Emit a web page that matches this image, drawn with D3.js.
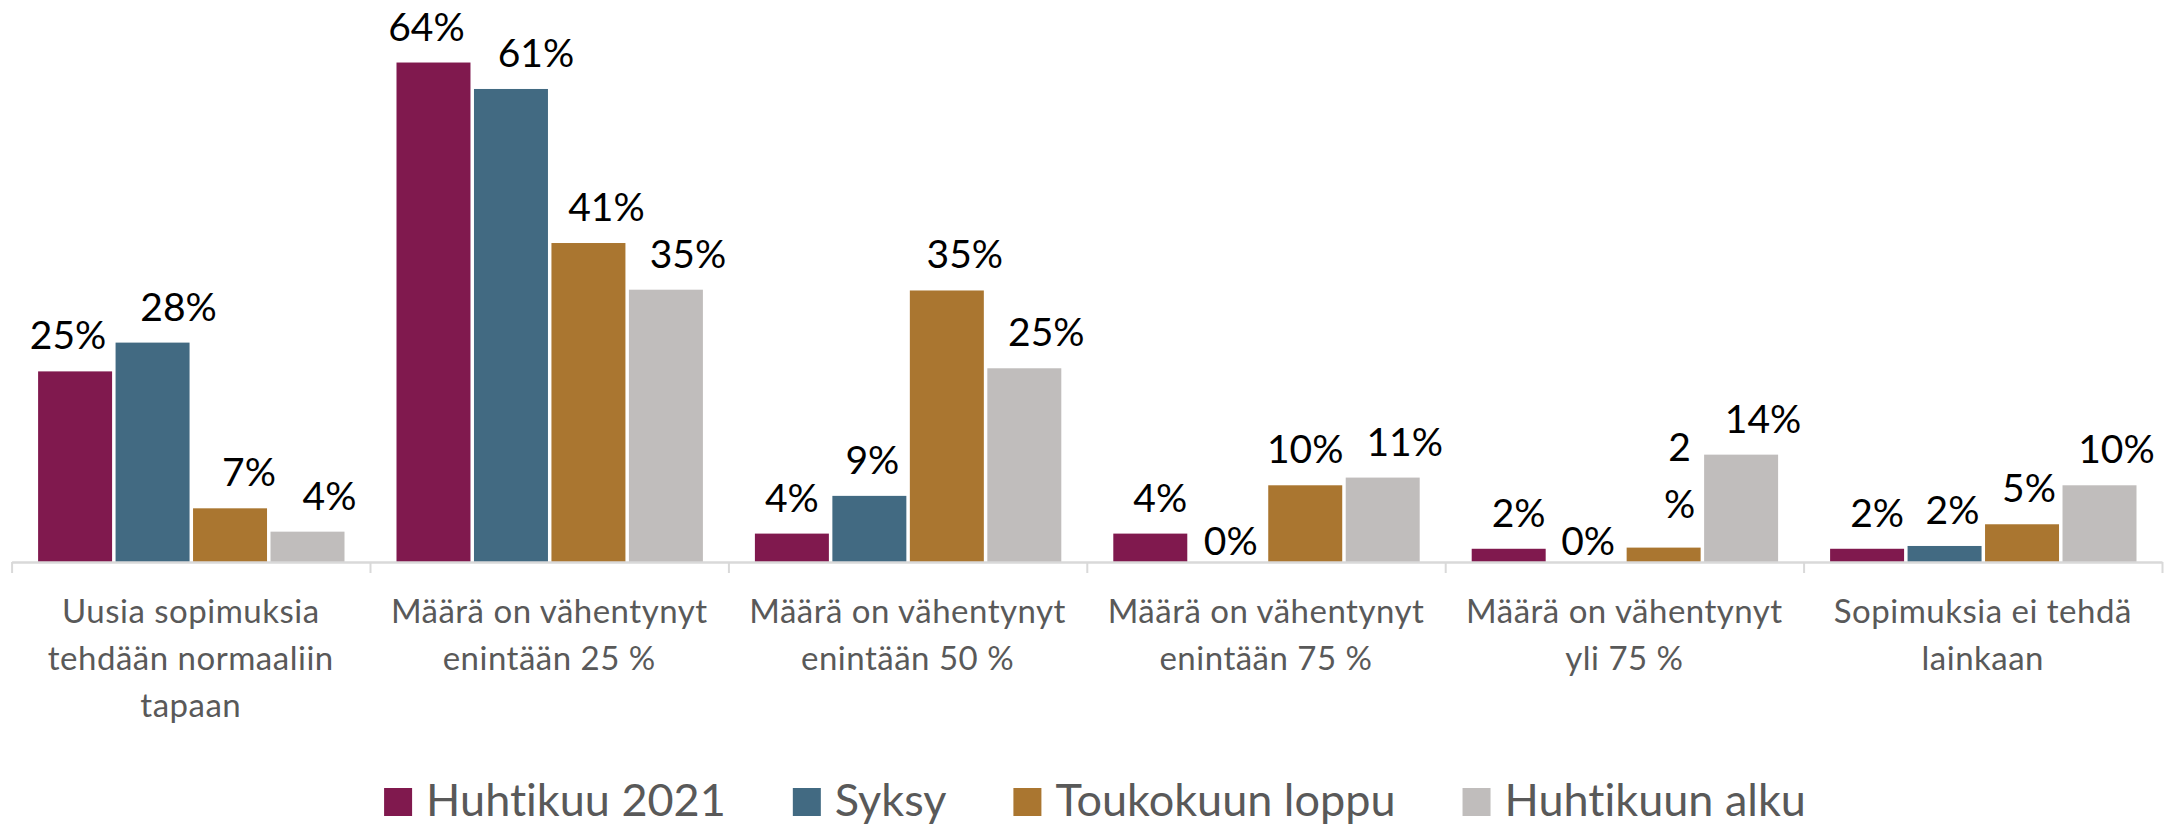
<!DOCTYPE html>
<html>
<head>
<meta charset="utf-8">
<script src="https://cdn.jsdelivr.net/npm/d3@7/dist/d3.min.js"></script>
<style>
  body { margin: 0; background: #fff; }
  svg {
    display: block;
    font-family: Lato, "Noto Sans", sans-serif;
    font-variant-ligatures: none;
    font-feature-settings: "liga" 0, "clig" 0;
  }
</style>
</head>
<body>
<div id="chart-container"></div>
<script>
// Categories (each one split in the lines shown under the axis)
const categories = [
  ["Uusia sopimuksia", "tehdään normaaliin", "tapaan"],
  ["Määrä on vähentynyt", "enintään 25 %"],
  ["Määrä on vähentynyt", "enintään 50 %"],
  ["Määrä on vähentynyt", "enintään 75 %"],
  ["Määrä on vähentynyt", "yli 75 %"],
  ["Sopimuksia ei tehdä", "lainkaan"]
];

const seriesNames = ["Huhtikuu 2021", "Syksy", "Toukokuun loppu", "Huhtikuun alku"];

// Values in percent
const huhtikuu2021 = [24.5, 64.2, 3.65, 3.65, 1.7, 1.7];
const syksy = [28.2, 60.8, 8.5, 0, 0, 2.06];
const toukokuunLoppu = [6.9, 41.0, 34.9, 9.86, 1.85, 4.85];
const huhtikuunAlku = [3.9, 35.0, 24.9, 10.85, 13.8, 9.86];

const seriesValues = [huhtikuu2021, syksy, toukokuunLoppu, huhtikuunAlku];
const colors = ["#80194e", "#426a82", "#aa7630", "#c0bdbc"];

// Labels that were moved by hand in the original (horizontal nudge, px)
const labelNudge = [
  [-7, -7, 0, 10, 10, 10],
  [26, 25, 3, 3, 2, 8],
  [19, 18, 18, 0, 16, 7],
  [22, 22, 22, 22, 22, 17]
];
// Labels that wrapped onto two lines in the original: [series, category]
const wrappedLabels = [[2, 4]];

const width = 2177, height = 827;
const axisY = 562;

const svg = d3.select("#chart-container")
  .append("svg")
  .attr("width", width)
  .attr("height", height);

// Scales
const x0 = d3.scaleBand()
  .domain(d3.range(categories.length))
  .range([11.6, 2162]);

const x1 = d3.scaleBand()
  .domain(d3.range(seriesNames.length))
  .range([26.5, x0.bandwidth() - 25.5])
  .paddingInner(0.045);

const y = d3.scaleLinear()
  .domain([0, 70])
  .range([axisY, axisY - 70 * 7.78]);

// Flat list of bars
const bars = [];
seriesValues.forEach((vals, s) => {
  vals.forEach((v, c) => bars.push({ s, c, v }));
});

// Bars
svg.append("g")
  .selectAll("rect")
  .data(bars)
  .enter().append("rect")
  .attr("x", d => x0(d.c) + x1(d.s))
  .attr("y", d => y(d.v))
  .attr("width", x1.bandwidth())
  .attr("height", d => y(0) - y(d.v))
  .attr("fill", d => colors[d.s]);

// Axis with ticks on category boundaries
const boundary = d3.scaleLinear()
  .domain([0, categories.length])
  .range(x0.range());

const axis = svg.append("g")
  .attr("transform", `translate(0,${axisY})`)
  .call(d3.axisBottom(boundary)
    .ticks(categories.length)
    .tickSize(11)
    .tickSizeOuter(0)
    .tickFormat(""));
axis.select(".domain").attr("stroke", "#d9d9d9").attr("stroke-width", 2.5);
axis.selectAll(".tick line").attr("stroke", "#d9d9d9").attr("stroke-width", 2);

// Category labels
svg.append("g")
  .selectAll("text")
  .data(categories)
  .enter().append("text")
  .attr("text-anchor", "middle")
  .attr("fill", "#595959")
  .style("font-size", "33px")
  .style("letter-spacing", "0.5px")
  .each(function (lines, i) {
    d3.select(this).selectAll("tspan")
      .data(lines)
      .enter().append("tspan")
      .attr("x", x0(i) + x0.bandwidth() / 2)
      .attr("y", (d, k) => 623 + k * 47)
      .text(d => d);
  });

// Data labels
const isWrapped = d => wrappedLabels.some(w => w[0] === d.s && w[1] === d.c);

svg.append("g")
  .selectAll("text")
  .data(bars)
  .enter().append("text")
  .attr("text-anchor", "middle")
  .attr("fill", "#000")
  .style("font-size", "39px")
  .each(function (d) {
    const cx = x0(d.c) + x1(d.s) + x1.bandwidth() / 2 + labelNudge[d.s][d.c];
    const txt = Math.round(d.v) + "%";
    const t = d3.select(this);
    if (isWrapped(d)) {
      const base = y(d.v) - 30;
      t.append("tspan").attr("x", cx).attr("y", base - 57).text(txt.slice(0, -1));
      t.append("tspan").attr("x", cx).attr("y", base).text("%");
    } else {
      t.attr("x", cx)
        .attr("y", y(d.v) - (d.v > 0 ? 22 : 7))
        .text(txt);
    }
  });

// Legend
const legend = svg.append("g");
const legendItems = legend.selectAll("g")
  .data(seriesNames)
  .enter().append("g");

legendItems.append("rect")
  .attr("width", 28)
  .attr("height", 28)
  .attr("y", 788)
  .attr("fill", (d, i) => colors[i]);

legendItems.append("text")
  .attr("x", 42)
  .attr("y", 816)
  .attr("fill", "#595959")
  .style("font-size", "45px")
  .text(d => d);

// Lay the legend items out in one row, centred under the chart
const widths = [];
legendItems.each(function () {
  widths.push(42 + d3.select(this).select("text").node().getComputedTextLength());
});
const total = d3.sum(widths) + 67 * (widths.length - 1);
let offset = 1095 - total / 2;
legendItems.attr("transform", (d, i) => {
  const tx = offset;
  offset += widths[i] + 67;
  return `translate(${tx},0)`;
});
</script>
</body>
</html>
